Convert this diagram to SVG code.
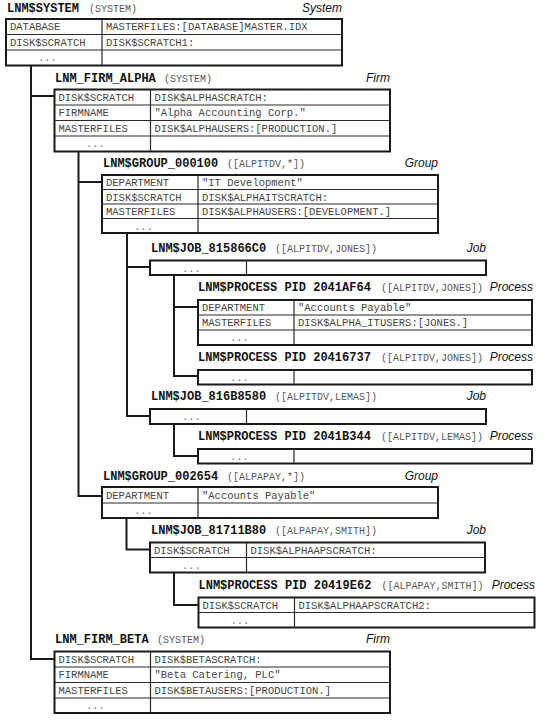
<svg xmlns="http://www.w3.org/2000/svg" width="549" height="720" viewBox="0 0 549 720">
<style>
.bg{fill:#fff}
.tbl{fill:#fff;stroke:#1a1a1a;stroke-width:2}
.ln{stroke:#2a2a2a;stroke-width:1.2;fill:none}
.cn{stroke:#1a1a1a;stroke-width:2;fill:none}
.t{font-family:"Liberation Mono",monospace;font-size:12px;font-weight:bold;fill:#111}
.p{font-family:"Liberation Mono",monospace;font-size:10px;fill:#555}
.c{font-family:"Liberation Mono",monospace;font-size:10.5px;fill:#444}
.d{font-family:"Liberation Mono",monospace;font-size:10.5px;fill:#777}
.k{font-family:"Liberation Sans",Arial,sans-serif;font-size:12px;font-style:italic;fill:#111;text-anchor:end}
</style>
<rect class="bg" x="0" y="0" width="549" height="720"/>
<g id="connectors">
<path class="cn" d="M31 65.5V659H54.5M31 96H54.5"/>
<path class="cn" d="M78.5 151.5V496H102M78.5 182H102"/>
<path class="cn" d="M127 233V416H150M127 267H150"/>
<path class="cn" d="M174 275V376H198M174 307H198"/>
<path class="cn" d="M174 424V456H198"/>
<path class="cn" d="M126.5 518V549.5H150"/>
<path class="cn" d="M174 572.5V605H198.5"/>
</g>
<g id="system">
<text class="t" x="7" y="12">LNM$SYSTEM</text><text class="p" x="89" y="12">(SYSTEM)</text>
<text class="k" x="342" y="12">System</text>
<rect class="tbl" x="6" y="19" width="336" height="46.5"/>
<path class="ln" d="M6 34.5H342M6 50H342M102 19V65.5"/>
<text class="c" x="10" y="30">DATABASE</text><text class="c" x="106" y="30">MASTERFILES:[DATABASE]MASTER.IDX</text>
<text class="c" x="10" y="45.5">DISK$SCRATCH</text><text class="c" x="106" y="45.5">DISK$SCRATCH1:</text>
<text class="d" x="38" y="61">...</text>
</g>
<g id="firm_alpha">
<text class="t" x="55" y="82">LNM_FIRM_ALPHA</text><text class="p" x="164" y="82">(SYSTEM)</text>
<text class="k" x="390" y="82">Firm</text>
<rect class="tbl" x="54.5" y="89.5" width="335.5" height="62"/>
<path class="ln" d="M54.5 105H390M54.5 120.5H390M54.5 136H390M150.5 89.5V151.5"/>
<text class="c" x="58.5" y="100.5">DISK$SCRATCH</text><text class="c" x="154.5" y="100.5">DISK$ALPHASCRATCH:</text>
<text class="c" x="58.5" y="116">FIRMNAME</text><text class="c" x="154.5" y="116">"Alpha Accounting Corp."</text>
<text class="c" x="58.5" y="131.5">MASTERFILES</text><text class="c" x="154.5" y="131.5">DISK$ALPHAUSERS:[PRODUCTION.]</text>
<text class="d" x="86" y="147">...</text>
</g>
<g id="group_000100">
<text class="t" x="103" y="167">LNM$GROUP_000100</text><text class="p" x="227" y="167">([ALPITDV,*])</text>
<text class="k" x="438" y="167">Group</text>
<rect class="tbl" x="102" y="175" width="336" height="58"/>
<path class="ln" d="M102 189.5H438M102 204H438M102 218.5H438M198 175V233"/>
<text class="c" x="106" y="186">DEPARTMENT</text><text class="c" x="202" y="186">"IT Development"</text>
<text class="c" x="106" y="200.5">DISK$SCRATCH</text><text class="c" x="202" y="200.5">DISK$ALPHAITSCRATCH:</text>
<text class="c" x="106" y="215">MASTERFILES</text><text class="c" x="202" y="215">DISK$ALPHAUSERS:[DEVELOPMENT.]</text>
<text class="d" x="134" y="229.5">...</text>
</g>
<g id="job_815866C0">
<text class="t" x="151" y="252">LNM$JOB_815866C0</text><text class="p" x="275" y="252">([ALPITDV,JONES])</text>
<text class="k" x="486" y="252">Job</text>
<rect class="tbl" x="150" y="260.5" width="336" height="14.5"/>
<path class="ln" d="M246.5 260.5V275"/>
<text class="d" x="182" y="271.5">...</text>
</g>
<g id="process_2041AF64">
<text class="t" x="198" y="291">LNM$PROCESS PID 2041AF64</text><text class="p" x="381" y="291">([ALPITDV,JONES])</text>
<text class="k" x="533" y="291">Process</text>
<rect class="tbl" x="198" y="300" width="334" height="45"/>
<path class="ln" d="M198 315H532M198 330H532M294 300V345"/>
<text class="c" x="202" y="311">DEPARTMENT</text><text class="c" x="298" y="311">"Accounts Payable"</text>
<text class="c" x="202" y="326">MASTERFILES</text><text class="c" x="298" y="326">DISK$ALPHA_ITUSERS:[JONES.]</text>
<text class="d" x="230" y="341">...</text>
</g>
<g id="process_20416737">
<text class="t" x="198" y="361">LNM$PROCESS PID 20416737</text><text class="p" x="381" y="361">([ALPITDV,JONES])</text>
<text class="k" x="533" y="361">Process</text>
<rect class="tbl" x="198" y="370" width="334" height="14.5"/>
<path class="ln" d="M294 370V384.5"/>
<text class="d" x="230" y="381">...</text>
</g>
<g id="job_816B8580">
<text class="t" x="151" y="400">LNM$JOB_816B8580</text><text class="p" x="275" y="400">([ALPITDV,LEMAS])</text>
<text class="k" x="486" y="400">Job</text>
<rect class="tbl" x="150" y="409" width="336" height="15"/>
<path class="ln" d="M246.5 409V424"/>
<text class="d" x="182" y="420">...</text>
</g>
<g id="process_2041B344">
<text class="t" x="198" y="440">LNM$PROCESS PID 2041B344</text><text class="p" x="381" y="440">([ALPITDV,LEMAS])</text>
<text class="k" x="533" y="440">Process</text>
<rect class="tbl" x="198" y="449" width="334" height="14.5"/>
<path class="ln" d="M294 449V463.5"/>
<text class="d" x="230" y="460">...</text>
</g>
<g id="group_002654">
<text class="t" x="103" y="480">LNM$GROUP_002654</text><text class="p" x="227" y="480">([ALPAPAY,*])</text>
<text class="k" x="438" y="480">Group</text>
<rect class="tbl" x="102" y="487" width="336" height="31"/>
<path class="ln" d="M102 503H438M198 487V518"/>
<text class="c" x="106" y="498.5">DEPARTMENT</text><text class="c" x="202" y="498.5">"Accounts Payable"</text>
<text class="d" x="134" y="514">...</text>
</g>
<g id="job_81711B80">
<text class="t" x="151" y="534">LNM$JOB_81711B80</text><text class="p" x="275" y="534">([ALPAPAY,SMITH])</text>
<text class="k" x="486" y="534">Job</text>
<rect class="tbl" x="150" y="542.5" width="335" height="30"/>
<path class="ln" d="M150 557.5H485M246.5 542.5V572.5"/>
<text class="c" x="154" y="553.5">DISK$SCRATCH</text><text class="c" x="250.5" y="553.5">DISK$ALPHAAPSCRATCH:</text>
<text class="d" x="182" y="568.5">...</text>
</g>
<g id="process_20419E62">
<text class="t" x="198.5" y="588.5">LNM$PROCESS PID 20419E62</text><text class="p" x="381.5" y="588.5">([ALPAPAY,SMITH])</text>
<text class="k" x="535" y="588.5">Process</text>
<rect class="tbl" x="198.5" y="597.5" width="336" height="30"/>
<path class="ln" d="M198.5 612.5H534.5M294.5 597.5V627.5"/>
<text class="c" x="202.5" y="608.5">DISK$SCRATCH</text><text class="c" x="298.5" y="608.5">DISK$ALPHAAPSCRATCH2:</text>
<text class="d" x="230.5" y="623.5">...</text>
</g>
<g id="firm_beta">
<text class="t" x="55" y="643">LNM_FIRM_BETA</text><text class="p" x="157" y="643">(SYSTEM)</text>
<text class="k" x="390" y="643">Firm</text>
<rect class="tbl" x="54.5" y="651.5" width="335.5" height="61.5"/>
<path class="ln" d="M54.5 667H390M54.5 682.5H390M54.5 698H390M150.5 651.5V713"/>
<text class="c" x="58.5" y="662.5">DISK$SCRATCH</text><text class="c" x="154.5" y="662.5">DISK$BETASCRATCH:</text>
<text class="c" x="58.5" y="678">FIRMNAME</text><text class="c" x="154.5" y="678">"Beta Catering, PLC"</text>
<text class="c" x="58.5" y="693.5">MASTERFILES</text><text class="c" x="154.5" y="693.5">DISK$BETAUSERS:[PRODUCTION.]</text>
<text class="d" x="86" y="709">...</text>
</g>
</svg>
